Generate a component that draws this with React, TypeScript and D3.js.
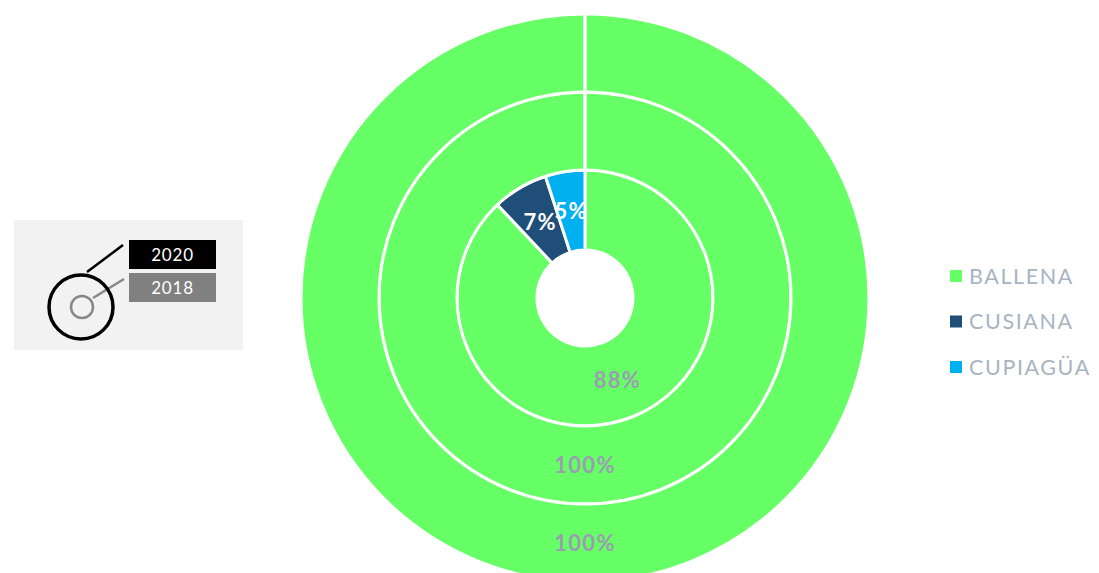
import * as d3 from "d3";
import React from "react";

// ring data, inner to outer
const categories = ["BALLENA", "CUSIANA", "CUPIAGÜA"];
const colors = ["#66FF66", "#1F4E79", "#00B0F0"];
const rings = ["2016", "2018", "2020"];
const values2016 = [88, 7, 5];
const values2018 = [100, 0, 0];
const values2020 = [100, 0, 0];
const insetLabels = ["2020", "2018"];

const App = () => {
    const width = 1099, height = 573;
    const cx = 585, cy = 298;
    const radii = [[48, 128], [128, 206], [206, 284]];
    const series = [values2016, values2018, values2020];

    const pie = d3.pie<number>().sort(null).value(d => d);
    const font = "Lato, 'DejaVu Sans', sans-serif";

    const legendY = d3.scalePoint<string>().domain(categories).range([276, 367]);

    return (
        <svg width={width} height={height} style={{position: "absolute", left: 0, top: 0}}>
            <g transform={`translate(${cx},${cy})`}>
                {series.map((vals, ri) => {
                    const arc = d3.arc<d3.PieArcDatum<number>>()
                        .innerRadius(radii[ri][0])
                        .outerRadius(radii[ri][1]);
                    const arcs = pie(vals);
                    return (
                        <g key={rings[ri]}>
                            {arcs.map((a, i) => (
                                <path key={i} d={arc(a) || ""} fill={colors[i]}
                                      stroke="#fff" strokeWidth={3} />
                            ))}
                            {arcs.filter(a => a.value > 0).map((a, i) => {
                                const [x, y] = arc.centroid(a);
                                const idx = a.index;
                                return (
                                    <text key={"t" + i} x={x} y={y} dy="0.35em" textAnchor="middle"
                                          fontFamily={font} fontWeight="bold" fontSize={22}
                                          letterSpacing={1.3}
                                          fill={idx === 0 ? "#9B9DB0" : "#fff"}>
                                        {Math.round(a.value / d3.sum(vals) * 100) + "%"}
                                    </text>
                                );
                            })}
                        </g>
                    );
                })}
            </g>

            {/* legend */}
            {categories.map((c, i) => (
                <g key={c} transform={`translate(950,${legendY(c)})`}>
                    <rect x={0} y={-6} width={12} height={12} fill={colors[i]} />
                    <text x={19} y={0} dy="0.36em" fontFamily={font} fontSize={21.5}
                          letterSpacing={1.6} fill="#A7B4C1">{c}</text>
                </g>
            ))}

            {/* inset key */}
            <rect x={14} y={220} width={229} height={130} fill="#F2F2F2" />
            <line x1={87} y1={272} x2={123} y2={245} stroke="#000" strokeWidth={2.5} />
            <line x1={93} y1={298} x2={124} y2={279} stroke="#888" strokeWidth={2.5} />
            <circle cx={81} cy={307} r={32} fill="none" stroke="#000" strokeWidth={3.5} />
            <circle cx={82} cy={307} r={11} fill="none" stroke="#888" strokeWidth={2.5} />
            <rect x={129} y={240} width={87} height={29} fill="#000" />
            <rect x={129} y={273} width={87} height={29} fill="#808080" />
            {insetLabels.map((t, i) => (
                <text key={t} x={172.5} y={255 + i * 33} dy="0.36em" textAnchor="middle"
                      fontFamily={font} fontSize={17} letterSpacing={0.8} fill="#fff">{t}</text>
            ))}
        </svg>
    );
};

export default App;
